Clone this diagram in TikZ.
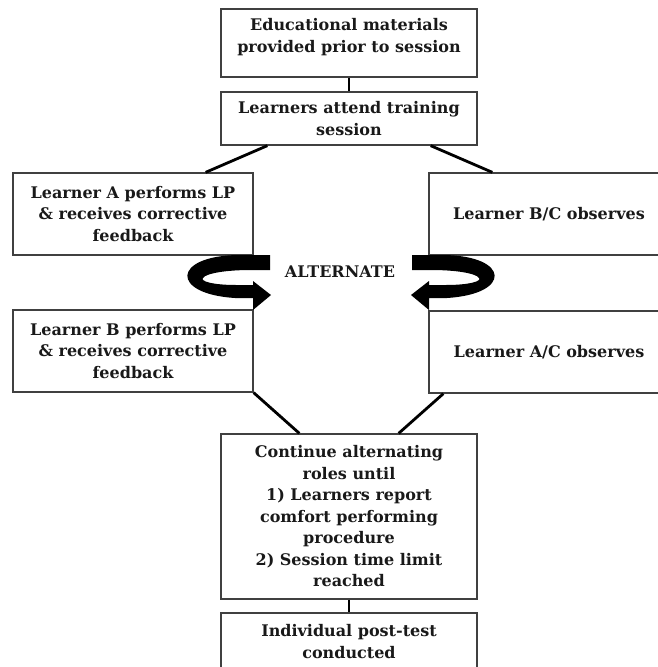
\documentclass[tikz,border=0pt]{standalone}
\usepackage{fontspec}
\setmainfont{DejaVu Serif}
\usepackage{tikz}
\usetikzlibrary{calc}

\begin{document}
\begin{tikzpicture}[x=1pt,y=-1pt,
    box/.style={rectangle,draw=black!75,line width=1.3pt,align=center,inner sep=0pt,
        text=black!90,font=\bfseries\fontsize{16}{21.5}\selectfont},
    link/.style={line width=2.8pt,black}]
    \tikzset{turn/.style={fill=black}}
    \clip (0,0) rectangle (658,667);

    \node[box,minimum width=256,minimum height=68] (edu)    at (349,43)    {Educational materials\\provided prior to session\\[-6pt]\mbox{}};
    \node[box,minimum width=256,minimum height=53] (attend) at (349,118.5) {Learners attend training\\session};
    \node[box,minimum width=240,minimum height=82] (perfA)  at (133,214)   {Learner A performs LP\\\& receives corrective\\feedback};
    \node[box,minimum width=240,minimum height=82] (obsBC)  at (549,214)   {Learner B/C observes};
    \node[box,minimum width=240,minimum height=82] (perfB)  at (133,351)   {Learner B performs LP\\\& receives corrective\\feedback};
    \node[box,minimum width=240,minimum height=82] (obsAC)  at (549,352)   {Learner A/C observes};
    \node[box,minimum width=256,minimum height=165] (cont)  at (349,516.5) {Continue alternating\\roles until\\1) Learners report\\comfort performing\\procedure\\2) Session time limit\\reached};
    \node[box,minimum width=256,minimum height=57] (post)   at (349,641.5) {Individual post-test\\conducted};
    \node[text=black!90,font=\bfseries\fontsize{16}{21.5}\selectfont] (alt) at (340,272) {ALTERNATE};

    \path (edu) edge[link] (attend);
    \path ([xshift=47pt]attend.south west) edge[link] ([xshift=-48pt]perfA.north east);
    \path ([xshift=-47pt]attend.south east) edge[link] ([xshift=64pt]obsBC.north west);
    \path (perfB.south east) edge[link] ([xshift=79pt]cont.north west);
    \path ([xshift=15pt]obsAC.south west) edge[link] ([xshift=-79pt]cont.north east);
    \path (cont) edge[link] (post);

    % turning arrows
    \fill[turn] (270,255) -- (238,255) .. controls (172,256) and (170,294) .. (235,298)
        -- (253,298) -- (253,310) -- (271,295) -- (253,281) -- (253,285) -- (236,285)
        .. controls (212,285) and (200,281) .. (203,278) .. controls (206,273) and (228,270) .. (250,270)
        -- (270,270) -- cycle;
    \begin{scope}[xshift=682pt,xscale=-1]
        \fill[turn] (270,255) -- (238,255) .. controls (172,256) and (170,294) .. (235,298)
            -- (253,298) -- (253,310) -- (271,295) -- (253,281) -- (253,285) -- (236,285)
            .. controls (212,285) and (200,281) .. (203,278) .. controls (206,273) and (228,270) .. (250,270)
            -- (270,270) -- cycle;
    \end{scope}
\end{tikzpicture}
\end{document}
